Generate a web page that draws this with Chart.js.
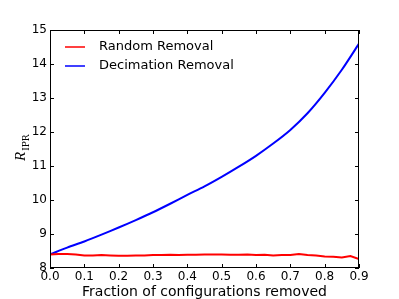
<!DOCTYPE html>
<html>
<head>
<meta charset="utf-8">
<script src="https://cdn.jsdelivr.net/npm/chart.js@4/dist/chart.umd.min.js"></script>
<style>
  html, body { margin: 0; padding: 0; background: #fff; }
</style>
</head>
<body>
<canvas id="chart" width="399" height="299"></canvas>
<script>
// Decimation removal, sampled every 0.05
const decimationX = [0, 0.05, 0.1, 0.15, 0.2, 0.25, 0.3, 0.35, 0.4, 0.45,
  0.5, 0.55, 0.6, 0.65, 0.7, 0.75, 0.8, 0.85, 0.9];
const decimationY = [8.40, 8.60, 8.78, 8.98, 9.19, 9.41, 9.64, 9.89, 10.15, 10.40,
  10.68, 10.98, 11.30, 11.66, 12.06, 12.55, 13.15, 13.83, 14.60];

// Random removal, sampled every 0.025
const randomX = [0, 0.025, 0.05, 0.075, 0.1, 0.125, 0.15, 0.175, 0.2, 0.225,
  0.25, 0.275, 0.3, 0.325, 0.35, 0.375, 0.4, 0.425, 0.45, 0.475,
  0.5, 0.525, 0.55, 0.575, 0.6, 0.625, 0.65, 0.675, 0.7, 0.725,
  0.75, 0.775, 0.8, 0.825, 0.85, 0.875, 0.9];
const randomY = [8.40, 8.41, 8.41, 8.40, 8.37, 8.37, 8.38, 8.37, 8.36, 8.36,
  8.37, 8.37, 8.38, 8.38, 8.39, 8.38, 8.39, 8.39, 8.40, 8.40,
  8.40, 8.39, 8.39, 8.40, 8.38, 8.39, 8.37, 8.38, 8.38, 8.41,
  8.38, 8.37, 8.34, 8.33, 8.31, 8.35, 8.26];

const xTicks = [0, 0.1, 0.2, 0.3, 0.4, 0.5, 0.6, 0.7, 0.8, 0.9];
const yTicks = [8, 9, 10, 11, 12, 13, 14, 15];

const seriesNames = ["Random Removal", "Decimation Removal"];
const xTitle = "Fraction of configurations removed";

function toPoints(xs, ys) {
  return xs.map((x, i) => ({ x, y: ys[i] }));
}

const TICK = 4;

// frame, inward ticks on all sides, legend and axis titles
const decor = {
  id: "decor",
  afterDraw(chart) {
    const { ctx, chartArea: a, scales } = chart;
    const xs = scales.x, ys = scales.y;
    ctx.save();
    ctx.strokeStyle = "#000";
    ctx.lineWidth = 1;
    ctx.strokeRect(a.left + 0.5, a.top + 0.5, a.right - a.left - 1, a.bottom - a.top - 1);

    ctx.beginPath();
    for (const v of xTicks) {
      const px = Math.round(xs.getPixelForValue(v)) + 0.5;
      ctx.moveTo(px, a.bottom); ctx.lineTo(px, a.bottom - TICK);
      ctx.moveTo(px, a.top); ctx.lineTo(px, a.top + TICK);
    }
    for (const v of yTicks) {
      const py = Math.round(ys.getPixelForValue(v)) + 0.5;
      ctx.moveTo(a.left, py); ctx.lineTo(a.left + TICK, py);
      ctx.moveTo(a.right, py); ctx.lineTo(a.right - TICK, py);
    }
    ctx.stroke();

    // legend
    ctx.font = "13px 'DejaVu Sans'";
    ctx.textBaseline = "middle";
    ctx.fillStyle = "#000";
    chart.data.datasets.forEach((ds, i) => {
      const y = a.top + 17 + i * 19;
      ctx.strokeStyle = ds.borderColor;
      ctx.lineWidth = 1.5;
      ctx.beginPath();
      ctx.moveTo(a.left + 15, y); ctx.lineTo(a.left + 35, y);
      ctx.stroke();
      ctx.fillText(ds.label, a.left + 49, y);
    });

    // x title
    ctx.font = "14px 'DejaVu Sans'";
    ctx.textAlign = "center";
    ctx.textBaseline = "alphabetic";
    ctx.fillText(xTitle, (a.left + a.right) / 2, 296);

    // y title: R_IPR, rotated
    ctx.translate(25, (a.top + a.bottom) / 2 + 12);
    ctx.rotate(-Math.PI / 2);
    ctx.textAlign = "left";
    ctx.font = "italic 15px 'Liberation Serif'";
    ctx.fillText("R", 0, 0);
    const w = ctx.measureText("R").width;
    ctx.font = "9px 'DejaVu Serif'";
    ctx.fillText("IPR", w + 1, 4);
    ctx.restore();
  }
};

new Chart(document.getElementById("chart"), {
  type: "line",
  data: {
    datasets: [
      {
        label: seriesNames[0],
        data: toPoints(randomX, randomY),
        borderColor: "#ff0000",
        borderWidth: 2,
        pointRadius: 0,
        tension: 0
      },
      {
        label: seriesNames[1],
        data: toPoints(decimationX, decimationY),
        borderColor: "#0000ff",
        borderWidth: 2,
        pointRadius: 0,
        tension: 0.3
      }
    ]
  },
  options: {
    responsive: false,
    animation: false,
    layout: { padding: { top: 30, right: 40, left: 0, bottom: 0 } },
    plugins: { legend: { display: false }, tooltip: { enabled: false } },
    scales: {
      x: {
        type: "linear",
        min: 0,
        max: 0.9,
        afterBuildTicks: s => { s.ticks = xTicks.map(v => ({ value: v })); },
        afterFit: s => { s.height = 31; },
        grid: { display: false, drawTicks: false, tickLength: 0 },
        border: { display: false },
        ticks: {
          padding: 2,
          color: "#000",
          font: { family: "DejaVu Sans", size: 12 },
          maxRotation: 0,
          callback: v => v.toFixed(1)
        }
      },
      y: {
        min: 8,
        max: 15,
        afterBuildTicks: s => { s.ticks = yTicks.map(v => ({ value: v })); },
        afterFit: s => { s.width = 50; },
        grid: { display: false, drawTicks: false, tickLength: 0 },
        border: { display: false },
        ticks: {
          padding: 3,
          color: "#000",
          font: { family: "DejaVu Sans", size: 12 },
          callback: v => String(v)
        }
      }
    }
  },
  plugins: [decor]
});
</script>
</body>
</html>
